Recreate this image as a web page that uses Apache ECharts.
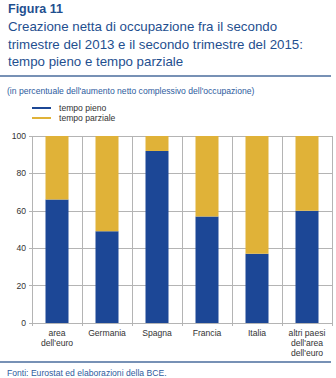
<!DOCTYPE html>
<html><head><meta charset="utf-8">
<script src="https://cdn.jsdelivr.net/npm/echarts@6/dist/echarts.min.js"></script>
<style>html,body{margin:0;padding:0;background:#fff}#c{width:336px;height:378px}</style>
</head><body><div id="c"></div>
<script>
var categories = ["area\ndell'euro", "Germania", "Spagna", "Francia", "Italia", "altri paesi\ndell'area\ndell'euro"];
var tempoPieno = [66, 49, 92, 57, 37, 60];
var tempoParziale = [34, 51, 8, 43, 63, 40];
var yTicks = [0, 20, 40, 60, 80, 100];

var blue = '#1c4796', gold = '#e0b238', grid = '#b4b4b4', txt = '#333';
var chart = echarts.init(document.getElementById('c'), null, {renderer: 'svg'});
chart.setOption({
  animation: false,
  title: [
    {text: 'Figura 11', left: 8, top: 2, padding: 0, textStyle: {fontFamily: 'Liberation Sans', fontSize: 12.5, fontWeight: 'bold', color: '#1f4f8f'}},
    {text: 'Creazione netta di occupazione fra il secondo\ntrimestre del 2013 e il secondo trimestre del 2015:\ntempo pieno e tempo parziale', left: 8, top: 18, padding: 0,
      textStyle: {fontFamily: 'Liberation Sans', fontSize: 13.3, fontWeight: 'normal', color: '#1f4f8f', lineHeight: 17.5}},
    {text: "(in percentuale dell'aumento netto complessivo dell'occupazione)", left: 7, top: 86, padding: 0,
      textStyle: {fontFamily: 'Liberation Sans', fontSize: 8.6, fontWeight: 'normal', color: '#2e5c9e'}},
    {text: 'Fonti: Eurostat ed elaborazioni della BCE.', left: 7, top: 368, padding: 0,
      textStyle: {fontFamily: 'Liberation Sans', fontSize: 8.6, fontWeight: 'normal', color: '#2e5c9e'}}
  ],
  graphic: [
    {type: 'line', shape: {x1: 0, y1: 76, x2: 331, y2: 76}, style: {stroke: '#4a6d9c', lineWidth: 1.5}},
    {type: 'line', shape: {x1: 0, y1: 362, x2: 331, y2: 362}, style: {stroke: '#4a6d9c', lineWidth: 1.5}}
  ],
  legend: {
    orient: 'vertical', left: 32, top: 103, padding: 0, itemGap: 0, itemWidth: 19, itemHeight: 2,
    icon: 'rect',
    textStyle: {fontFamily: 'Liberation Sans', fontSize: 8.6, lineHeight: 10, height: 10, color: txt, padding: [0, 0, 0, 3]},
    data: ['tempo pieno', 'tempo parziale']
  },
  grid: {left: 32, right: 4, top: 136, bottom: 55},
  xAxis: {
    type: 'category', data: categories,
    axisLine: {lineStyle: {color: grid, width: 1}},
    axisTick: {show: true, length: 3, lineStyle: {color: grid}},
    splitLine: {show: true, lineStyle: {color: grid, width: 1}},
    axisLabel: {fontFamily: 'Liberation Sans', fontSize: 8.6, color: txt, lineHeight: 10, margin: 5}
  },
  yAxis: {
    type: 'value', min: 0, max: 100, interval: 20,
    axisLine: {show: false},
    axisTick: {show: true, length: 3, lineStyle: {color: grid}},
    splitLine: {show: true, lineStyle: {color: grid, width: 1}},
    axisLabel: {fontFamily: 'Liberation Sans', fontSize: 8.6, color: txt, margin: 6,
      formatter: function (v) { return yTicks.indexOf(v) >= 0 ? String(v) : ''; }}
  },
  series: [
    {name: 'tempo pieno', type: 'bar', stack: 't', data: tempoPieno, barWidth: 23, itemStyle: {color: blue}},
    {name: 'tempo parziale', type: 'bar', stack: 't', data: tempoParziale, barWidth: 23, itemStyle: {color: gold}}
  ]
});
</script></body></html>
